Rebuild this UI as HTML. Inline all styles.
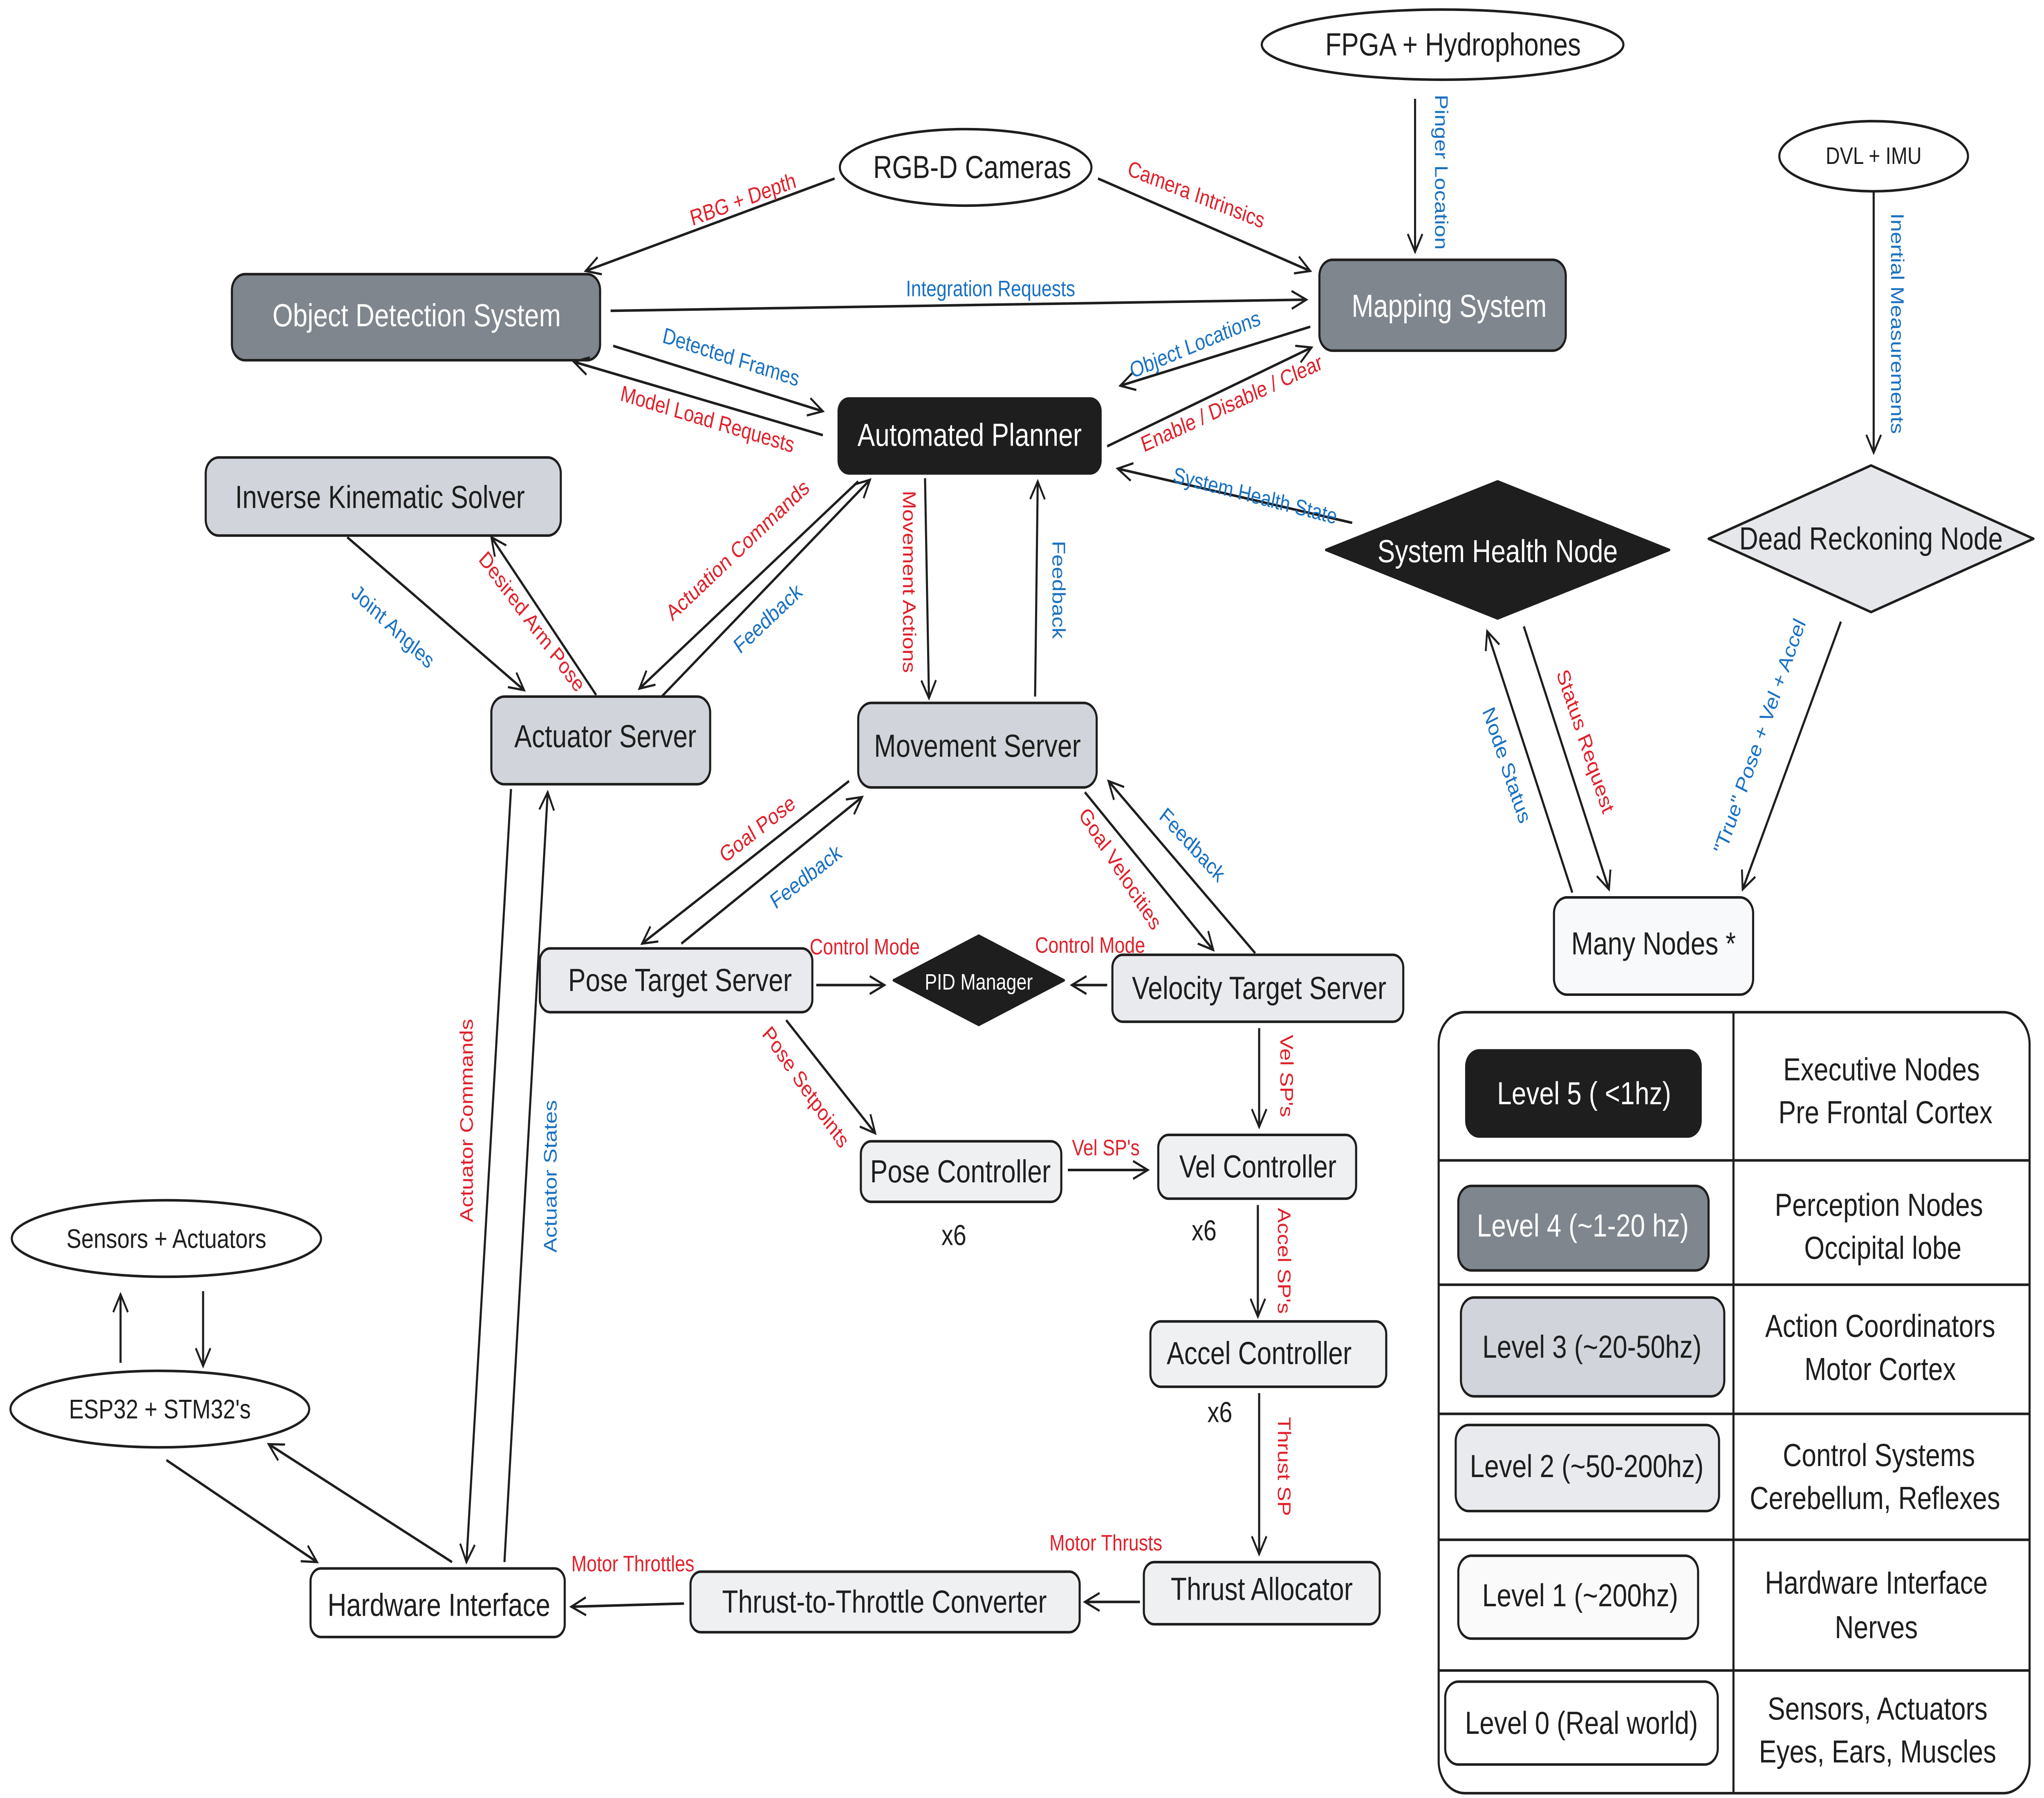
<!DOCTYPE html>
<html><head><meta charset="utf-8"><style>
html,body{margin:0;padding:0;background:#fff;width:100%;height:100%;overflow:hidden;}
svg{display:block;position:fixed;left:0;top:0;width:100vw;height:100vh;}
text{font-family:"Liberation Sans","DejaVu Sans",sans-serif;}
.n{font-size:20px;fill:#1e1e1e;text-anchor:middle;dominant-baseline:central;}
.w{fill:#fff;}
.r{font-size:14px;fill:#e0202a;text-anchor:middle;dominant-baseline:central;}
.b{font-size:14px;fill:#1971c2;text-anchor:middle;dominant-baseline:central;}
.e{stroke:#1e1e1e;stroke-width:1.6;fill:none;}
.box{stroke:#1e1e1e;stroke-width:1.6;}
</style></head><body>
<svg viewBox="0 0 1560 1128" preserveAspectRatio="none" xmlns="http://www.w3.org/2000/svg">
<defs><marker id="a" viewBox="0 0 20 20" refX="18" refY="10" markerWidth="14" markerHeight="14" markerUnits="userSpaceOnUse" orient="auto"><path d="M2,2 L18,10 L2,18" fill="none" stroke="#1e1e1e" stroke-width="2"/></marker></defs>
<rect width="1560" height="1128" fill="#fff"/>

<ellipse cx="1101" cy="28" rx="138" ry="22" class="box" fill="#fff"/><text x="1109" y="28" class="n">FPGA + Hydrophones</text>
<ellipse cx="737" cy="105" rx="96" ry="24" class="box" fill="#fff"/><text x="742" y="105" class="n">RGB-D Cameras</text>
<ellipse cx="1430" cy="98" rx="72" ry="22" class="box" fill="#fff"/><text x="1430" y="98" class="n" style="font-size:15px">DVL + IMU</text>
<ellipse cx="127" cy="777" rx="118" ry="24" class="box" fill="#fff"/><text x="127" y="777" class="n" style="font-size:17px">Sensors + Actuators</text>
<ellipse cx="122" cy="884" rx="114" ry="24" class="box" fill="#fff"/><text x="122" y="884" class="n" style="font-size:17px">ESP32 + STM32's</text>

<rect x="177" y="172" width="281" height="54" rx="10" class="box" fill="#7f868d"/><text x="318" y="198" class="n w">Object Detection System</text>
<rect x="1007" y="163" width="188" height="57" rx="10" class="box" fill="#7f868d"/><text x="1106" y="192" class="n w">Mapping System</text>
<rect x="640" y="250" width="200" height="47" rx="8" class="box" fill="#1e1e1e"/><text x="740" y="273" class="n w">Automated Planner</text>
<rect x="157" y="287" width="271" height="49" rx="10" class="box" fill="#d1d5db"/><text x="290" y="312" class="n">Inverse Kinematic Solver</text>
<polygon points="1012,345 1143,302 1274,345 1143,388" class="box" fill="#1e1e1e" stroke-linejoin="round"/><text x="1143" y="346" class="n w">System Health Node</text>
<polygon points="1304,338 1428,292 1552,338 1428,384" class="box" fill="#e5e7eb" stroke-linejoin="round"/><text x="1428" y="338" class="n">Dead Reckoning Node</text>
<rect x="375" y="437" width="167" height="55" rx="10" class="box" fill="#d1d5db"/><text x="462" y="462" class="n">Actuator Server</text>
<rect x="655" y="441" width="182" height="53" rx="10" class="box" fill="#d1d5db"/><text x="746" y="468" class="n">Movement Server</text>
<rect x="1186" y="563" width="152" height="61" rx="10" class="box" fill="#f8f9fa"/><text x="1262" y="592" class="n">Many Nodes *</text>
<rect x="412" y="595" width="208" height="40" rx="8" class="box" fill="#e8eaed"/><text x="519" y="615" class="n">Pose Target Server</text>
<polygon points="682,615 747,587 812,615 747,643" class="box" fill="#1e1e1e" stroke-linejoin="round"/><text x="747" y="616" class="n w" style="font-size:14px">PID Manager</text>
<rect x="849" y="599" width="222" height="42" rx="8" class="box" fill="#e8eaed"/><text x="961" y="620" class="n">Velocity Target Server</text>
<rect x="657" y="716" width="153" height="38" rx="8" class="box" fill="#eef0f2"/><text x="733" y="735" class="n">Pose Controller</text>
<rect x="884" y="712" width="151" height="40" rx="8" class="box" fill="#eef0f2"/><text x="960" y="732" class="n">Vel Controller</text>
<rect x="878" y="829" width="180" height="41" rx="8" class="box" fill="#eef0f2"/><text x="961" y="849" class="n">Accel Controller</text>
<rect x="873" y="980" width="180" height="39" rx="8" class="box" fill="#eef0f2"/><text x="963" y="997" class="n">Thrust Allocator</text>
<rect x="527" y="986" width="297" height="38" rx="8" class="box" fill="#eef0f2"/><text x="675" y="1005" class="n">Thrust-to-Throttle Converter</text>
<rect x="237" y="984" width="194" height="43" rx="8" class="box" fill="#fff"/><text x="335" y="1007" class="n">Hardware Interface</text>
<text x="728" y="775" class="n" style="font-size:18px">x6</text>
<text x="919" y="772" class="n" style="font-size:18px">x6</text>
<text x="931" y="886" class="n" style="font-size:18px">x6</text>

<rect x="1098" y="635" width="451" height="490" rx="20" class="box" fill="#fff"/>
<line x1="1323" y1="635" x2="1323" y2="1125" class="e"/>
<line x1="1098" y1="728" x2="1549" y2="728" class="e"/>
<line x1="1098" y1="806" x2="1549" y2="806" class="e"/>
<line x1="1098" y1="887" x2="1549" y2="887" class="e"/>
<line x1="1098" y1="966" x2="1549" y2="966" class="e"/>
<line x1="1098" y1="1048" x2="1549" y2="1048" class="e"/>
<rect x="1119" y="659" width="179" height="54" rx="10" class="box" fill="#1e1e1e"/><text x="1209" y="686" class="n w">Level 5 ( &lt;1hz)</text>
<rect x="1113" y="744" width="191" height="53" rx="10" class="box" fill="#7f868d"/><text x="1208" y="769" class="n w">Level 4 (~1-20 hz)</text>
<rect x="1115" y="814" width="201" height="62" rx="10" class="box" fill="#d1d5db"/><text x="1215" y="845" class="n">Level 3 (~20-50hz)</text>
<rect x="1111" y="894" width="201" height="54" rx="10" class="box" fill="#e8eaed"/><text x="1211" y="920" class="n">Level 2 (~50-200hz)</text>
<rect x="1113" y="976" width="183" height="52" rx="10" class="box" fill="#fafafa"/><text x="1206" y="1001" class="n">Level 1 (~200hz)</text>
<rect x="1103" y="1055" width="208" height="52" rx="10" class="box" fill="#fff"/><text x="1207" y="1081" class="n">Level 0 (Real world)</text>
<text x="1436" y="671" class="n">Executive Nodes</text><text x="1439" y="698" class="n">Pre Frontal Cortex</text>
<text x="1434" y="756" class="n">Perception Nodes</text><text x="1437" y="783" class="n">Occipital lobe</text>
<text x="1435" y="832" class="n">Action Coordinators</text><text x="1435" y="859" class="n">Motor Cortex</text>
<text x="1434" y="913" class="n">Control Systems</text><text x="1431" y="940" class="n">Cerebellum, Reflexes</text>
<text x="1432" y="993" class="n">Hardware Interface</text><text x="1432" y="1021" class="n">Nerves</text>
<text x="1433" y="1072" class="n">Sensors, Actuators</text><text x="1433" y="1099" class="n">Eyes, Ears, Muscles</text>

<g class="e" marker-end="url(#a)">
<line x1="637" y1="112" x2="447" y2="170"/>
<line x1="838" y1="112" x2="1000" y2="170"/>
<line x1="1080" y1="62" x2="1080" y2="158"/>
<line x1="466" y1="195" x2="997" y2="188"/>
<line x1="468" y1="217" x2="628" y2="258"/>
<line x1="628" y1="273" x2="438" y2="227"/>
<line x1="845" y1="280" x2="1001" y2="218"/>
<line x1="1000" y1="205" x2="855" y2="242"/>
<line x1="1032" y1="328" x2="853" y2="294"/>
<line x1="1430" y1="120" x2="1430" y2="284"/>
<line x1="655" y1="302" x2="488" y2="432"/>
<line x1="505" y1="437" x2="664" y2="301"/>
<line x1="706" y1="300" x2="709" y2="438"/>
<line x1="790" y1="437" x2="792" y2="302"/>
<line x1="265" y1="337" x2="400" y2="433"/>
<line x1="455" y1="436" x2="375" y2="337"/>
<line x1="1163" y1="393" x2="1228" y2="558"/>
<line x1="1200" y1="560" x2="1135" y2="396"/>
<line x1="1405" y1="390" x2="1330" y2="558"/>
<line x1="648" y1="490" x2="490" y2="592"/>
<line x1="520" y1="592" x2="658" y2="500"/>
<line x1="828" y1="497" x2="926" y2="596"/>
<line x1="958" y1="598" x2="846" y2="490"/>
<line x1="623" y1="618" x2="675" y2="618"/>
<line x1="845" y1="618" x2="818" y2="618"/>
<line x1="600" y1="640" x2="668" y2="711"/>
<line x1="815" y1="734" x2="876" y2="734"/>
<line x1="961" y1="645" x2="961" y2="707"/>
<line x1="960" y1="756" x2="960" y2="826"/>
<line x1="961" y1="874" x2="961" y2="975"/>
<line x1="870" y1="1005" x2="828" y2="1005"/>
<line x1="522" y1="1006" x2="436" y2="1008"/>
<line x1="390" y1="495" x2="356" y2="980"/>
<line x1="385" y1="980" x2="418" y2="497"/>
<line x1="127" y1="916" x2="242" y2="980"/>
<line x1="345" y1="980" x2="205" y2="906"/>
<line x1="92" y1="855" x2="92" y2="812"/>
<line x1="155" y1="810" x2="155" y2="857"/>
</g>

<text class="r" transform="translate(567,125) rotate(-17)">RBG + Depth</text>
<text class="r" transform="translate(913,122) rotate(18)">Camera Intrinsics</text>
<text class="b" transform="translate(1100,108) rotate(90)">Pinger Location</text>
<text class="b" x="756" y="181">Integration Requests</text>
<text class="b" transform="translate(558,224) rotate(15)">Detected Frames</text>
<text class="r" transform="translate(540,263) rotate(14)">Model Load Requests</text>
<text class="r" transform="translate(940,253) rotate(-21)">Enable / Disable / Clear</text>
<text class="b" transform="translate(912,216) rotate(-19)">Object Locations</text>
<text class="b" transform="translate(958,311) rotate(12)">System Health State</text>
<text class="b" transform="translate(1448,203) rotate(90)">Inertial Measurements</text>
<text class="r" transform="translate(563,345) rotate(-38)">Actuation Commands</text>
<text class="b" transform="translate(586,388) rotate(-38)">Feedback</text>
<text class="r" transform="translate(694,365) rotate(90)">Movement Actions</text>
<text class="b" transform="translate(808,370) rotate(90)">Feedback</text>
<text class="b" transform="translate(300,393) rotate(38)">Joint Angles</text>
<text class="r" transform="translate(406,390) rotate(48)">Desired Arm Pose</text>
<text class="r" transform="translate(1210,465) rotate(68)">Status Request</text>
<text class="b" transform="translate(1150,480) rotate(68)">Node Status</text>
<text class="b" transform="translate(1343,462) rotate(-67)">"True" Pose + Vel + Accel</text>
<text class="r" transform="translate(578,520) rotate(-33)">Goal Pose</text>
<text class="b" transform="translate(615,550) rotate(-33)">Feedback</text>
<text class="r" transform="translate(855,545) rotate(52)">Goal Velocities</text>
<text class="b" transform="translate(910,530) rotate(42)">Feedback</text>
<text class="r" x="660" y="594">Control Mode</text>
<text class="r" x="832" y="593">Control Mode</text>
<text class="r" transform="translate(615,682) rotate(50)">Pose Setpoints</text>
<text class="r" x="844" y="720">Vel SP's</text>
<text class="r" transform="translate(982,675) rotate(90)">Vel SP's</text>
<text class="r" transform="translate(980,791) rotate(90)">Accel SP's</text>
<text class="r" transform="translate(980,920) rotate(90)">Thrust SP</text>
<text class="r" x="844" y="968">Motor Thrusts</text>
<text class="r" x="483" y="981">Motor Throttles</text>
<text class="r" transform="translate(356,703) rotate(-90)">Actuator Commands</text>
<text class="b" transform="translate(420,738) rotate(-90)">Actuator States</text>
</svg>
</body></html>
